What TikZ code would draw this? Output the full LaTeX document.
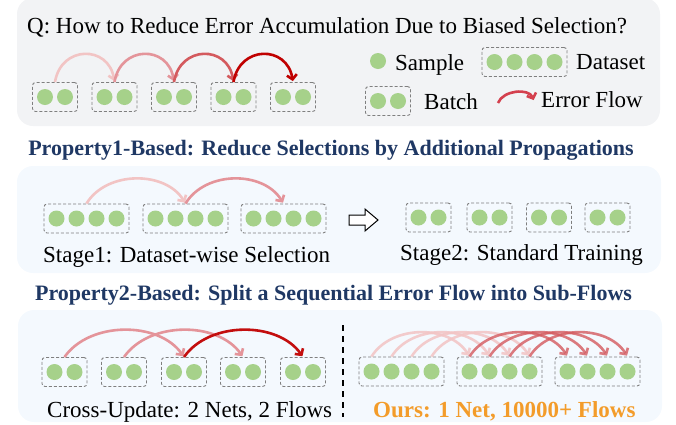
\documentclass[tikz,border=0pt]{standalone}
\usepackage{fontspec}
\setmainfont{Liberation Serif}
\usetikzlibrary{arrows.meta}

\definecolor{panelgray}{HTML}{F2F3F5}
\definecolor{panelblue}{HTML}{F4F9FE}
\definecolor{samplegreen}{HTML}{A6D18A}
\definecolor{boxgray}{HTML}{7F7F7F}
\definecolor{titlenavy}{HTML}{1F3864}
\definecolor{oursorange}{HTML}{F39C2A}
\definecolor{flowA}{HTML}{F2C4C4}
\definecolor{flowB}{HTML}{E4949A}
\definecolor{flowC}{HTML}{D45A5E}
\definecolor{flowD}{HTML}{C00000}
\definecolor{legendred}{HTML}{D4404E}

\tikzset{
  sample/.style={circle, fill=samplegreen, minimum size=16pt, inner sep=0pt},
  setbox/.style={draw=boxgray, dash pattern=on 3pt off 2pt, line width=0.9pt, rounded corners=3pt, minimum height=29pt, inner sep=0pt},
  flow/.style={line width=2.6pt, -{Straight Barb[length=4.5pt,width=10pt]}, shorten >=1pt},
  stagetext/.style={font=\fontsize{23}{26}\selectfont, anchor=base west, inner sep=0pt},
  legendtext/.style={font=\fontsize{23}{26}\selectfont, anchor=base west, inner sep=0pt},
  heading/.style={font=\bfseries\fontsize{22}{26}\selectfont, text=titlenavy, anchor=base, inner sep=0pt},
}

% dashed box of #4 samples, centred at (#2,#3)
\newcommand{\samplebox}[4]{%
  \node[setbox, minimum width={20*#4+5}] (#1) at ({#2},{#3}) {};
  \foreach \k in {1,...,#4}
    \node[sample] (#1-\k) at ({#2+(\k-#4/2-0.5)*20},{#3}) {};
}

\begin{document}
\begin{tikzpicture}[x=1pt, y=-1pt]
    \useasboundingbox (0,0) rectangle (676,424);
    \fill[panelgray, rounded corners=16pt] (17,-2) rectangle (660,126);
    \fill[panelblue, rounded corners=16pt] (17,166) rectangle (661,273);
    \fill[panelblue, rounded corners=16pt] (18,310) rectangle (662,422);

    % question and legend
    \node[legendtext] (question) at (27,33) {Q: How to Reduce Error Accumulation Due to Biased Selection?};
    \foreach \i in {1,...,5} \samplebox{t\i}{55+59.5*(\i-1)}{97}{2};
    \foreach \i/\j/\c in {1/2/flowA, 2/3/flowB, 3/4/flowC, 4/5/flowD}
        \draw[flow, \c] (t\i.north) .. controls +(6,-37) and +(-6,-37) .. (t\j.north);

    \node[sample] (lsample) at (378,61) {};
    \node[legendtext] (lsampletext) at (395,70) {Sample};
    \samplebox{ldata}{524.5}{62}{4}
    \node[legendtext] (ldatatext) at (576,69) {Dataset};
    \samplebox{lbatch}{388}{101}{2}
    \node[legendtext] (lbatchtext) at (424,109) {Batch};
    \coordinate (lflowa) at (498,103);
    \coordinate (lflowb) at (534,101);
    \draw[flow, legendred] (lflowa) .. controls +(5,-13) and +(-5,-13) .. (lflowb);
    \node[legendtext] (lflowtext) at (541,107) {Error Flow};

    % property 1
    \node[heading] (head1) at (331,155) {Property1-Based: Reduce Selections by Additional Propagations};
    \foreach \i/\x in {1/86.5, 2/185.5, 3/283.5} \samplebox{d\i}{\x}{218.5}{4};
    \draw[flow, flowA] (d1.north) .. controls +(20,-33) and +(-20,-33) .. (d2.north);
    \draw[flow, flowB] (d2.north) .. controls +(20,-33) and +(-20,-33) .. (d3.north);
    \node[stagetext] (stage1) at (43,262) {Stage1: Dataset-wise Selection};
    \draw[line width=1pt, fill=white] (349,215) -- (365,215) -- (365,209) -- (378,220)
        -- (365,231) -- (365,225) -- (349,225) -- cycle;
    \foreach \i/\x in {1/428.5, 2/489.5, 3/549, 4/607.5} \samplebox{b\i}{\x}{217.5}{2};
    \node[stagetext] (stage2) at (400,260) {Stage2: Standard Training};

    % property 2
    \node[heading] (head2) at (333.5,300) {Property2-Based: Split a Sequential Error Flow into Sub-Flows};
    \foreach \i/\x in {1/64.5, 2/124, 3/184, 4/243, 5/303} \samplebox{c\i}{\x}{372}{2};
    \draw[flow, flowB] (c1.north) .. controls +(25,-36) and +(-25,-36) .. (c3.north);
    \draw[flow, flowB] (c2.north) .. controls +(25,-36) and +(-25,-36) .. (c4.north);
    \draw[flow, flowD!85!flowC] (c3.north) .. controls +(25,-36) and +(-25,-36) .. (c5.north);
    \node[stagetext] (cross) at (47,417) {Cross-Update: 2 Nets, 2 Flows};

    \coordinate (splittop) at (343,325);
    \coordinate (splitbot) at (343,417);
    \draw[line width=1.6pt, dash pattern=on 6pt off 5pt] (splittop) -- (splitbot);

    \foreach \i/\x in {1/401.5, 2/499.5, 3/597.5} \samplebox{r\i}{\x}{371.5}{4};
    \foreach \k in {1,...,4}
        \draw[flow, flowA, opacity=.85] (r1-\k |- r1.north) .. controls +(20,-32) and +(-20,-32) .. (r2-\k |- r2.north);
    \foreach \k in {1,...,4}
        \draw[flow, flowC, opacity=.8] (r2-\k |- r2.north) .. controls +(20,-32) and +(-20,-32) .. (r3-\k |- r3.north);
    \node[font=\bfseries\fontsize{23}{26}\selectfont, text=oursorange, anchor=base west, inner sep=0pt] (ours) at (373,417) {Ours: 1 Net, 10000+ Flows};
\end{tikzpicture}
\end{document}
